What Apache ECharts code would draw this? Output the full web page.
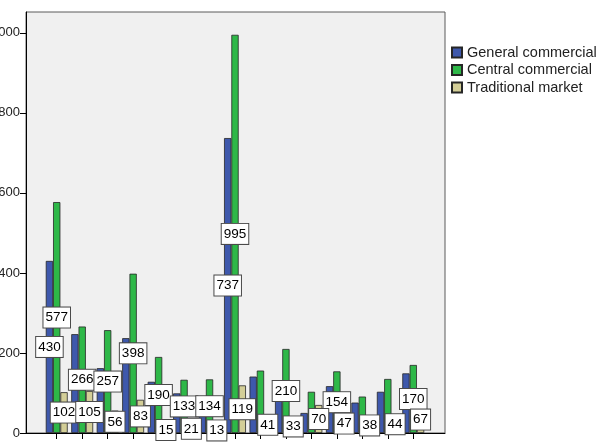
<!DOCTYPE html>
<html>
<head>
<meta charset="utf-8">
<script src="https://cdn.jsdelivr.net/npm/echarts@6/dist/echarts.min.js"></script>
<style>html,body{margin:0;padding:0;background:#fff}#c{width:610px;height:442px}</style>
</head>
<body>
<div id="c"></div>
<script>
// ---- data ----
const categories = ['1','2','3','4','5','6','7','8','9','10','11','12','13','14','15'];
const seriesNames = ['General commercial area', 'Central commercial area', 'Traditional market'];
const generalValues = [430, 247, 162, 237, 128, 99, 75, 737, 141, 95, 50, 117, 76, 103, 149];
const centralValues = [577, 266, 257, 398, 190, 133, 134, 995, 156, 210, 103, 154, 91, 135, 170];
const traditionalValues = [102, 105, 56, 83, 15, 21, 13, 119, 41, 33, 70, 47, 38, 44, 67];
const yTickValues = [0, 200, 400, 600, 800, 1000];
// which value labels are visible in the picture (others are hidden by overlap)
const generalLabelIdx = [0, 7];
const centralLabelIdx = [0, 1, 2, 3, 4, 5, 6, 7, 9, 11, 14];
const traditionalLabelIdx = [0,1,2,3,4,5,6,7,8,9,10,11,12,13,14];

const colors = ['#3E58AC', '#2EB848', '#D3CE97'];
const FONT = 'Liberation Sans, Arial, sans-serif';

const labelStyle = {
  show: true,
  position: 'inside',
  color: '#000',
  fontFamily: FONT,
  fontSize: 13.5,
  lineHeight: 15,
  backgroundColor: '#fff',
  borderColor: '#4a4a4a',
  borderWidth: 1,
  padding: [3, 2, 2, 2]
};

function build(values, shownIdx) {
  return values.map((v, i) => ({
    value: v,
    label: { show: shownIdx.indexOf(i) >= 0 }
  }));
}

const valueSets = [generalValues, centralValues, traditionalValues];
const labelSets = [generalLabelIdx, centralLabelIdx, traditionalLabelIdx];

const series = seriesNames.map((name, k) => ({
  name: name,
  type: 'bar',
  xAxisIndex: 0,
  yAxisIndex: 0,
  barWidth: 7.3,
  barGap: '0%',
  itemStyle: { color: colors[k], borderColor: '#262626', borderWidth: 0.8 },
  label: labelStyle,
  labelLayout: { hideOverlap: false },
  emphasis: { disabled: true },
  data: build(valueSets[k], labelSets[k])
}));

const chart = echarts.init(document.getElementById('c'), null, { renderer: 'canvas' });
chart.setOption({
  animation: false,
  backgroundColor: '#ffffff',
  legend: {
    orient: 'vertical',
    left: 446,
    top: 40,
    itemWidth: 10,
    itemHeight: 10,
    itemGap: 2.5,
    icon: 'rect',
    selectedMode: false,
    textStyle: {
      fontFamily: FONT,
      fontSize: 14.5,
      lineHeight: 14,
      color: '#222',
      width: 132,
      overflow: 'truncate',
      ellipsis: ''
    },
    data: seriesNames
  },
  grid: [
    { left: 44, right: 184, top: 12, bottom: 9, show: false, containLabel: false, outerBoundsMode: 'none' },
    { left: 26, right: 165, top: 12, bottom: 9, show: true, containLabel: false, outerBoundsMode: 'none',
      backgroundColor: '#f0f0f0', borderColor: '#5a5a5a', borderWidth: 1 }
  ],
  xAxis: [
    {
      type: 'category', gridIndex: 0, data: categories,
      axisLine: { show: false },
      axisTick: { show: true, alignWithLabel: true, length: 6, lineStyle: { color: '#000' } },
      axisLabel: { show: false },
      splitLine: { show: false }
    },
    {
      type: 'value', gridIndex: 1, min: 0, max: 1,
      axisLine: { show: true, lineStyle: { color: '#000', width: 1 } },
      axisTick: { show: false }, axisLabel: { show: false }, splitLine: { show: false }
    }
  ],
  yAxis: [
    {
      type: 'value', gridIndex: 0, min: 0, max: 1052, interval: 200,
      offset: 18,
      axisLine: { show: true, lineStyle: { color: '#000', width: 1 } },
      axisTick: { show: true, length: 6, lineStyle: { color: '#000' } },
      axisLabel: {
        show: true, margin: 6, color: '#222', fontFamily: FONT, fontSize: 13,
        showMaxLabel: false,
        formatter: v => (yTickValues.indexOf(v) >= 0 ? String(v) : '')
      },
      splitLine: { show: false }
    },
    {
      type: 'value', gridIndex: 1, min: 0, max: 1,
      axisLine: { show: false }, axisTick: { show: false },
      axisLabel: { show: false }, splitLine: { show: false }
    }
  ],
  series: series
});
</script>
</body>
</html>
